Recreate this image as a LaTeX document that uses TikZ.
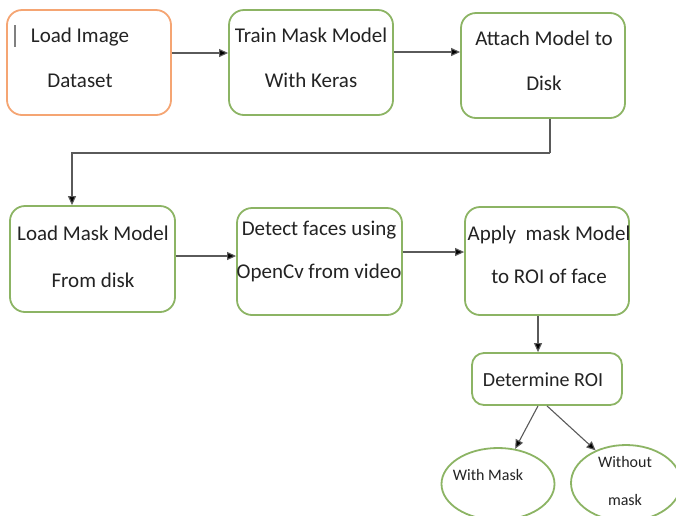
\documentclass[tikz,border=0pt]{standalone}
\usepackage{fontspec}
\setmainfont{Carlito}
\usetikzlibrary{shapes.geometric,arrows.meta,calc}
\definecolor{boxgreen}{RGB}{140,180,100}
\definecolor{boxorange}{RGB}{245,165,115}
\definecolor{linegray}{RGB}{90,90,90}
\definecolor{txt}{RGB}{35,35,35}
\tikzset{
  box/.style={draw=boxgreen, line width=1.8pt, rounded corners=15pt, fill=white},
  obox/.style={box, draw=boxorange},
  oval/.style={draw=boxgreen, line width=1.8pt, ellipse, fill=white},
  lbl/.style={inner sep=0pt, align=center, text=txt, font=\fontsize{21}{45}\selectfont},
  lbls/.style={lbl, font=\fontsize{21}{43}\selectfont},
  small/.style={inner sep=0pt, align=center, text=txt, font=\fontsize{16}{38}\selectfont},
  conn/.style={draw=linegray, line width=1.1pt, -{Triangle[length=9pt,width=8pt,fill=black]}},
  plain/.style={draw=linegray, line width=1.1pt}
}
\begin{document}
\begin{tikzpicture}[x=1pt,y=-1pt]
\clip (0,0) rectangle (676,515);
\fill[white] (0,0) rectangle (676,515);
% boxes
\node[obox, minimum width=164pt, minimum height=105pt] (b1) at (89,62.5) {};
\node[box, minimum width=164pt, minimum height=105pt] (b2) at (311,62.5) {};
\node[box, minimum width=164pt, minimum height=105pt] (b3) at (543,65.5) {};
\node[box, minimum width=165pt, minimum height=106pt] (b4) at (92.5,259) {};
\node[box, minimum width=165pt, minimum height=107pt] (b5) at (319.5,261.5) {};
\node[box, minimum width=164pt, minimum height=108pt] (b6) at (547,261) {};
\node[box, minimum width=150pt, minimum height=52pt, rounded corners=12pt] (b7) at (547,379) {};
\node[oval, minimum width=113pt, minimum height=72pt] (e1) at (498,484) {};
\node[oval, minimum width=110pt, minimum height=76pt] (e2) at (626,483) {};
% texts
\node[lbl] (t1) at (80,57.5) {Load Image\\Dataset};
\node[lbl] (t2) at (311,57.5) {Train Mask Model\\With Keras};
\node[lbl] (t3) at (544,61) {Attach Model to\\Disk};
\node[lbl, font=\fontsize{21}{47}\selectfont] (t4) at (93,256.5) {Load Mask Model\\From disk};
\node[lbls] (t5) at (319,251.5) {Detect faces using\\OpenCv from video};
\node[lbls] (t6) at (549,254.5) {Apply\ \ mask Model\\to ROI of face};
\node[lbl, font=\fontsize{20}{24}\selectfont] (t7) at (543,380) {Determine ROI};
\node[small] (t8) at (488,475) {With Mask};
\node[small] (t9) at (625,481) {Without\\mask};
% cursor mark
\draw[gray, line width=1.2pt] (15,25) -- (15,47);
% connectors
\draw[conn] ([yshift=9.5pt]b1.east) -- ([yshift=9.5pt]b1.east -| b2.west);
\draw[conn] ([yshift=10.5pt]b2.east) -- ([yshift=10.5pt]b2.east -| b3.west);
\coordinate (turn) at (550,153);
\draw[plain] ([xshift=7pt]b3.south) -- (turn);
\draw[conn] (turn) -| ([xshift=-20.5pt]b4.north);
\draw[conn] ([yshift=3pt]b4.east) -- ([yshift=3pt]b4.east -| b5.west);
\draw[conn] ([yshift=9.5pt]b5.east) -- ([yshift=9.5pt]b5.east -| b6.west);
\draw[conn] ([xshift=-9pt]b6.south) -- ([xshift=-9pt]b6.south |- b7.north);
\draw[conn] ([xshift=-9pt]b7.south) -- (e1.64);
\draw[conn] (b7.south) -- (e2.133);
\end{tikzpicture}
\end{document}
